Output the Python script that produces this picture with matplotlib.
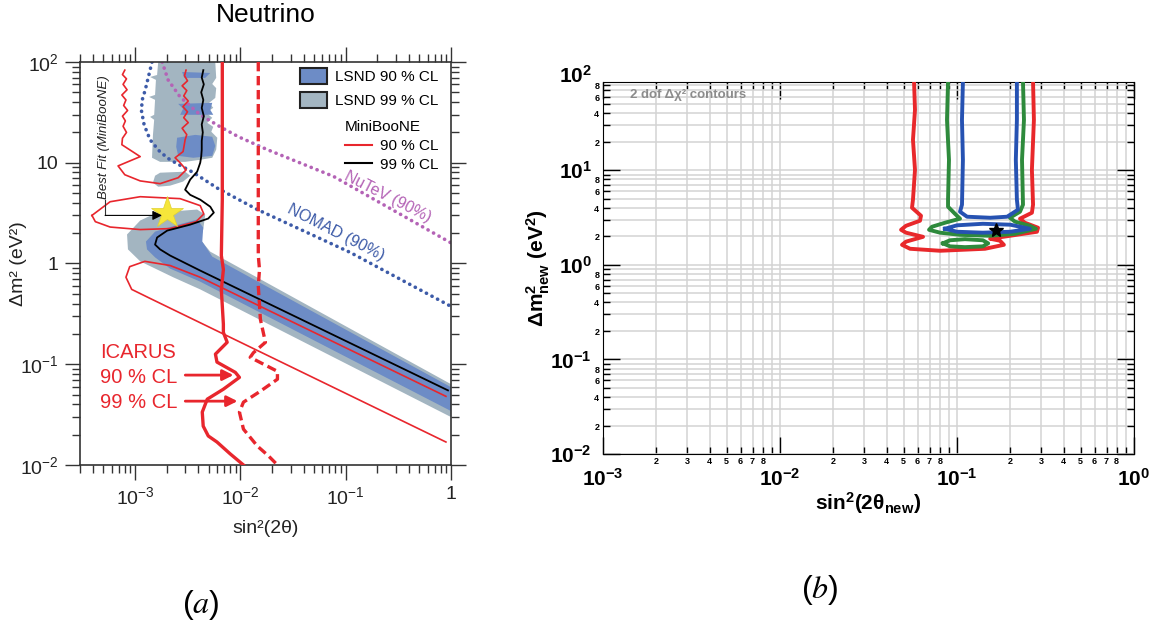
import numpy as np
import matplotlib
matplotlib.use("Agg")
import matplotlib.pyplot as plt
from matplotlib.patches import Patch
from matplotlib.lines import Line2D
from matplotlib.ticker import (FixedLocator, FixedFormatter, LogLocator,
                               FuncFormatter, NullFormatter)

plt.rcParams['font.family'] = ['Liberation Sans', 'DejaVu Sans']
plt.rcParams['mathtext.fontset'] = 'custom'
plt.rcParams['mathtext.rm'] = 'Liberation Sans'
plt.rcParams['mathtext.it'] = 'Liberation Sans:italic'
plt.rcParams['mathtext.bf'] = 'Liberation Sans:bold'
plt.rcParams['mathtext.default'] = 'regular'

# ---------------- panel (a): neutrino exclusion plot ----------------
# LSND allowed regions (99 % CL, grey)
lsnd99_top_x = [1.66e-3, 1.62e-3, 1.39e-3, 1.58e-3, 1.55e-3, 1.36e-3, 1.55e-3, 1.52e-3,
                1.39e-3, 1.52e-3, 1.48e-3, 1.45e-3, 1.73e-3, 2.99e-3, 4.16e-3, 5.41e-3,
                5.9e-3, 6.04e-3, 5.3e-3, 5.53e-3, 4.85e-3, 5.41e-3, 4.75e-3, 5.53e-3,
                5.06e-3, 5.78e-3, 5.9e-3, 5.41e-3, 5.9e-3, 5.78e-3]
lsnd99_top_y = [100, 74.3, 71, 66.4, 47.1, 45, 42.1, 29.9, 28.5, 26.7, 18.9, 11.2, 10.2,
                10.2, 10.7, 11.2, 13.5, 17.7, 20.3, 22.7, 24.9, 27.9, 31.3, 35.1, 39.3,
                44, 55, 60.5, 69.5, 100]
lsnd99_island_x = [1.55e-3, 1.73e-3, 2.99e-3, 3.34e-3, 2.86e-3, 2.15e-3, 1.66e-3, 1.48e-3]
lsnd99_island_y = [7.43, 7.96, 8.15, 7.43, 6.5, 5.92, 5.78, 6.34]
lsnd99_main_x = [8.4e-4, 1.12e-3, 1.62e-3, 3.89e-3, 4.64e-3, 4.44e-3, 4.16e-3, 5.18e-3,
                 1.0, 1.0, 4.16e-3, 2.30e-3, 1.12e-3, 8.57e-4]
lsnd99_main_y = [1.94, 2.67, 3.2, 3.43, 3.05, 2.17, 1.73, 1.31, 0.0634, 0.0299, 0.553,
                 0.73, 1.05, 1.38]

# LSND allowed regions (90 % CL, blue)
lsnd90_main_x = [1.27e-3, 1.55e-3, 2.40e-3, 3.89e-3, 4.44e-3, 4.35e-3, 5.41e-3, 1.0, 1.0,
                 4.16e-3, 2.15e-3, 1.55e-3, 1.30e-3]
lsnd90_main_y = [1.65, 2.07, 2.38, 2.73, 2.27, 1.65, 1.17, 0.0592, 0.0343, 0.66, 0.89,
                 1.15, 1.38]
lsnd90_blob_a_x = [2.51e-3, 3.73e-3, 5.41e-3, 5.78e-3, 5.41e-3, 3.57e-3, 2.57e-3, 2.46e-3]
lsnd90_blob_a_y = [17.7, 18.9, 18.1, 14.7, 11.7, 11.2, 11.7, 14.4]
lsnd90_blob_b_x = [2.57e-3, 5.41e-3, 5.18e-3, 5.53e-3, 2.68e-3, 2.86e-3]
lsnd90_blob_b_y = [38.4, 39.3, 33.5, 29.9, 29.9, 34.3]
lsnd90_blob_c_x = [2.8e-3, 5.18e-3, 4.64e-3, 2.93e-3]
lsnd90_blob_c_y = [79.6, 77.8, 69.5, 69.5]

# MiniBooNE 99 % CL (black)
mb99_x = [4.45e-3, 4.3e-3, 4.5e-3, 4.25e-3, 4.45e-3, 4.3e-3, 4.5e-3, 4.3e-3, 4.4e-3,
          4.3e-3, 4.3e-3, 4.25e-3, 4.16e-3, 3.89e-3, 3.34e-3, 2.99e-3, 3.34e-3, 4.16e-3,
          5.18e-3, 5.6e-3, 4.95e-3, 3.34e-3, 2.02e-3, 1.62e-3, 1.55e-3, 1.73e-3, 2.15e-3,
          4.16e-3, 0.936]
mb99_y = [83, 70, 60, 50, 42, 35, 29, 24, 20, 16.5, 13.5, 11.5, 10, 8.15, 6.8, 5.4, 4.8,
          4.3, 3.66, 3.2, 2.79, 2.43, 2.12, 1.81, 1.54, 1.38, 1.2, 0.85, 0.055]

# MiniBooNE 90 % CL (red), three pieces
mb90_u_x = [8.0e-4, 7.6e-4, 8.3e-4, 7.7e-4, 8.4e-4, 7.5e-4, 8.2e-4, 7.8e-4, 8.5e-4, 7.6e-4,
            8.1e-4, 7.7e-4, 8.3e-4, 7.6e-4, 7.5e-4, 1.12e-3, 6.9e-4, 8.0e-4, 1.12e-3,
            1.73e-3, 2.57e-3, 3.06e-3, 2.68e-3, 2.4e-3, 2.86e-3, 2.99e-3, 3.1e-3, 2.8e-3,
            3.2e-3, 2.9e-3, 3.15e-3, 2.85e-3, 3.2e-3, 2.9e-3, 3.1e-3, 2.8e-3, 3.15e-3,
            2.95e-3, 3.05e-3]
mb90_u_y = [83, 75, 68, 60, 53, 47, 42, 37, 33, 29, 26, 23, 20, 17.5, 15.1, 11.5, 9.3,
            7.6, 6.6, 6.2, 7.1, 8.5, 10.0, 11.2, 12.9, 16.9, 19, 22, 25, 28, 32, 36, 41,
            46, 52, 58, 65, 73, 83]
mb90_ell_x = [3.9e-4, 5.8e-4, 1.12e-3, 2.68e-3, 4.16e-3, 4.5e-3, 3.8e-3, 2.15e-3, 1.12e-3,
              5.8e-4, 4.2e-4, 3.9e-4]
mb90_ell_y = [3.0, 4.1, 4.6, 4.4, 3.75, 3.1, 2.6, 2.22, 2.17, 2.3, 2.6, 3.0]
mb90_low_x = [0.895, 4.16e-3, 2.15e-3, 1.24e-3, 8.9e-4, 8.2e-4, 9.3e-4, 1.39e-3, 0.895]
mb90_low_y = [0.048, 0.73, 0.955, 1.05, 0.93, 0.73, 0.553, 0.45, 0.0169]

# ICARUS limits
icarus90_x = [6.74e-3, 6.74e-3, 6.6e-3, 6.9e-3, 6.6e-3, 6.9e-3, 6.9e-3, 7.5e-3, 5.8e-3,
              6.0e-3, 8.96e-3, 9.8e-3, 6.9e-3, 4.85e-3, 4.35e-3, 4.44e-3, 4.96e-3, 6.0e-3,
              8.0e-3, 1.07e-2]
icarus90_y = [100, 4.3, 1.2, 0.87, 0.55, 0.25, 0.207, 0.165, 0.126, 0.105, 0.083, 0.074,
              0.0565, 0.045, 0.0335, 0.0243, 0.0194, 0.0169, 0.0129, 0.01]
icarus99_x = [1.48e-2, 1.48e-2, 1.52e-2, 1.48e-2, 1.55e-2, 1.73e-2, 1.33e-2, 1.24e-2,
              2.25e-2, 2.25e-2, 1.55e-2, 1.07e-2, 9.8e-3, 1.07e-2, 1.45e-2, 1.85e-2, 2.25e-2]
icarus99_y = [100, 1.2, 0.87, 0.6, 0.279, 0.165, 0.13, 0.117, 0.085, 0.071, 0.054, 0.042,
              0.0335, 0.0227, 0.0154, 0.0123, 0.01]

# NOMAD and NuTeV 90 % limits
nomad_x = [1.45e-3, 1.25e-3, 1.17e-3, 1.15e-3, 1.22e-3, 1.39e-3, 1.73e-3, 2.15e-3, 3.57e-3,
           6.04e-3, 1.45e-2, 0.11, 1.0]
nomad_y = [100, 52.8, 42, 33, 23.8, 16.9, 12.8, 10.7, 8.0, 5.6, 3.43, 1.29, 0.375]
nutev_x = [1.81e-3, 2.06e-3, 2.68e-3, 4.16e-3, 6.45e-3, 9.6e-3, 1.8e-2, 7.7e-2, 1.0]
nutev_y = [100, 66.4, 45, 29.9, 22.7, 18.1, 13.5, 7.3, 1.6]

best_fit_a = (2.02e-3, 3.2)

# ---------------- panel (b): 2 dof contours ----------------
red_x = [0.0572, 0.0579, 0.0564, 0.0579, 0.0564, 0.0557, 0.0626, 0.0618, 0.0515, 0.0483,
         0.0515, 0.0643, 0.0515, 0.0489, 0.0543, 0.0802, 0.144, 0.184, 0.175, 0.154,
         0.199, 0.283, 0.287, 0.242, 0.227, 0.265, 0.269, 0.265, 0.272, 0.269]
red_y = [86, 43.6, 21.0, 10.1, 4.89, 4.02, 3.31, 2.93, 2.59, 2.35, 2.19, 1.98, 1.76, 1.63,
         1.48, 1.41, 1.48, 1.63, 1.80, 1.89, 2.03, 2.24, 2.47, 2.79, 3.08, 3.56, 4.33,
         10.1, 34.1, 86]
green_x = [0.089, 0.0878, 0.0901, 0.089, 0.089, 0.0974, 0.104, 0.0855, 0.0722, 0.0695,
           0.0802, 0.104, 0.154, 0.213, 0.279, 0.258, 0.213, 0.199, 0.227, 0.236, 0.233,
           0.239, 0.236]
green_y = [86, 34.1, 12.9, 4.89, 4.12, 3.47, 3.08, 2.79, 2.53, 2.35, 2.19, 2.08, 2.03,
           2.13, 2.41, 2.59, 2.86, 3.15, 3.65, 4.33, 12.9, 34.1, 86]
green_ring_x = [0.0833, 0.0913, 0.111, 0.140, 0.150, 0.140, 0.111, 0.0913, 0.0833]
green_ring_y = [1.69, 1.82, 1.87, 1.82, 1.69, 1.57, 1.54, 1.57, 1.69]
blue_x = [0.108, 0.1067, 0.108, 0.1067, 0.104, 0.114, 0.154, 0.192, 0.221, 0.218, 0.215,
          0.218, 0.218]
blue_y = [86, 34.1, 12.9, 4.33, 3.65, 3.23, 3.15, 3.23, 3.83, 4.89, 12.9, 34.1, 86]
blue_ring_x = [0.0855, 0.100, 0.140, 0.200, 0.258, 0.200, 0.140, 0.100, 0.0855]
blue_ring_y = [2.41, 2.62, 2.72, 2.66, 2.41, 2.24, 2.19, 2.24, 2.41]
best_fit_b = (0.166, 2.35)

# colours
c_grey = '#a3b5c1'
c_blue = '#6d8cc6'
c_red = '#e8262d'
c_nomad = '#3d5ba8'
c_nutev = '#b463b6'

fig = plt.figure(figsize=(11.57, 6.28), dpi=100)

# ================= panel (a) =================
axa = fig.add_axes([0.0691, 0.2596, 0.3207, 0.6417])
axa.set_xscale('log')
axa.set_yscale('log')

axa.fill(lsnd99_top_x, lsnd99_top_y, color=c_grey, lw=0, zorder=1)
axa.fill(lsnd99_island_x, lsnd99_island_y, color=c_grey, lw=0, zorder=1)
axa.fill(lsnd99_main_x, lsnd99_main_y, color=c_grey, lw=0, zorder=1)
axa.fill(lsnd90_main_x, lsnd90_main_y, color=c_blue, lw=0, zorder=1.5)
axa.fill(lsnd90_blob_a_x, lsnd90_blob_a_y, color=c_blue, lw=0, zorder=1.5)
axa.fill(lsnd90_blob_b_x, lsnd90_blob_b_y, color=c_blue, lw=0, zorder=1.5)
axa.fill(lsnd90_blob_c_x, lsnd90_blob_c_y, color=c_blue, lw=0, zorder=1.5)

axa.plot(nomad_x, nomad_y, color=c_nomad, lw=2.6, ls=(0, (0.05, 1.7)),
         dash_capstyle='round', zorder=2)
axa.plot(nutev_x, nutev_y, color=c_nutev, lw=2.6, ls=(0, (0.05, 1.7)),
         dash_capstyle='round', zorder=2)

axa.plot(mb90_u_x, mb90_u_y, color=c_red, lw=1.2, zorder=3)
axa.plot(mb90_ell_x, mb90_ell_y, color=c_red, lw=1.2, zorder=3)
axa.plot(mb90_low_x, mb90_low_y, color=c_red, lw=1.2, zorder=3)
axa.plot(mb99_x, mb99_y, color='black', lw=1.3, zorder=3)

axa.plot(icarus90_x, icarus90_y, color=c_red, lw=2.4, zorder=4)
axa.plot(icarus99_x, icarus99_y, color=c_red, lw=2.4, ls=(0, (2.8, 1.4)), zorder=4)

axa.plot(*best_fit_a, marker='*', ms=24, color='#f6e63a', mec='#e0d030', mew=0.5, zorder=5)
axa.plot([5.2e-4, 5.2e-4], [4.3, 3.0], color='#333333', lw=0.8, zorder=6)
axa.annotate('', xy=(1.8e-3, 3.0), xytext=(5.2e-4, 3.0),
             arrowprops=dict(arrowstyle='-|>', color='black', lw=0.8, mutation_scale=14,
                             shrinkA=0, shrinkB=0), zorder=6)
axa.text(0.065, 0.814, 'Best Fit (MiniBooNE)', transform=axa.transAxes, rotation=90,
         ha='center', va='center', fontsize=9.5, style='italic', color='#222222')

axa.text(0.25, 4.6, 'NuTeV (90%)', color=c_nutev, fontsize=11.5, rotation=-27,
         ha='center', va='center', rotation_mode='anchor')
axa.text(0.080, 2.05, 'NOMAD (90%)', color=c_nomad, fontsize=11.5, rotation=-27,
         ha='center', va='center', rotation_mode='anchor')

axa.text(0.054, 0.280, 'ICARUS', transform=axa.transAxes, color=c_red, fontsize=14.5,
         ha='left', va='center')
axa.text(0.054, 0.218, '90 % CL', transform=axa.transAxes, color=c_red, fontsize=14.5,
         ha='left', va='center')
axa.text(0.054, 0.156, '99 % CL', transform=axa.transAxes, color=c_red, fontsize=14.5,
         ha='left', va='center')
for y_arr, x_tip in [(0.078, 8.6e-3), (0.043, 9.4e-3)]:
    axa.annotate('', xy=(x_tip, y_arr), xytext=(3.0e-3, y_arr),
                 arrowprops=dict(arrowstyle='-|>', color=c_red, lw=2.0, mutation_scale=16,
                                 shrinkA=0, shrinkB=0), zorder=6)

axa.set_xlim(3e-4, 1.0)
axa.set_ylim(1e-2, 1e2)
axa.xaxis.set_major_locator(FixedLocator([1e-3, 1e-2, 1e-1, 1]))
axa.xaxis.set_major_formatter(FixedFormatter(['$10^{-3}$', '$10^{-2}$', '$10^{-1}$', '1']))
axa.yaxis.set_major_locator(FixedLocator([1e-2, 1e-1, 1, 10, 100]))
axa.yaxis.set_major_formatter(FixedFormatter(['$10^{-2}$', '$10^{-1}$', '1', '10', '$10^{2}$']))
for axis in (axa.xaxis, axa.yaxis):
    axis.set_minor_locator(LogLocator(base=10, subs=np.arange(2, 10), numticks=30))
    axis.set_minor_formatter(NullFormatter())
axa.tick_params(which='both', direction='out', top=True, right=True, colors='#333333',
                labelcolor='#222222', labelsize=14, width=1.0)
axa.tick_params(which='major', length=10.5, pad=5)
axa.tick_params(which='minor', length=5.5)
for sp in axa.spines.values():
    sp.set_linewidth(1.2)
    sp.set_color('#333333')

axa.set_xlabel('sin²(2θ)', fontsize=14, labelpad=8, color='#222222')
axa.set_ylabel('Δm² (eV²)', fontsize=14, color='#222222')
axa.yaxis.set_label_coords(-0.143, 0.5)
fig.text(265.5 / 1157, 0.965, 'Neutrino', ha='center', va='baseline', fontsize=19)

leg1 = axa.legend(handles=[Patch(facecolor=c_blue, edgecolor='#222222', lw=1.5),
                           Patch(facecolor=c_grey, edgecolor='#222222', lw=1.5)],
                  labels=['LSND 90 % CL', 'LSND 99 % CL'], loc='upper left',
                  bbox_to_anchor=(0.593, 0.985), frameon=False, fontsize=11,
                  borderpad=0, borderaxespad=0, handlelength=1.77, handleheight=1.24,
                  handletextpad=0.55, labelspacing=0.5)
axa.add_artist(leg1)
axa.legend(handles=[Line2D([], [], color=c_red, lw=1.5), Line2D([], [], color='black', lw=1.5)],
           labels=['90 % CL', '99 % CL'], title='MiniBooNE', title_fontsize=11,
           alignment='left', loc='upper left', bbox_to_anchor=(0.714, 0.855),
           frameon=False, fontsize=11, borderpad=0, borderaxespad=0,
           handlelength=1.77, handletextpad=0.55, labelspacing=0.3)

# ================= panel (b) =================
axb = fig.add_axes([0.5212, 0.2771, 0.4589, 0.5924])
axb.set_xscale('log')
axb.set_yscale('log')
axb.set_xlim(1e-3, 1.0)
axb.set_ylim(1e-2, 86)
axb.set_axisbelow(True)
axb.grid(True, which='both', color='#d3d3d3', lw=1.1)

lw_c = 2.8
axb.plot(red_x, red_y, color='#e8282b', lw=lw_c, zorder=3)
axb.plot(green_x, green_y, color='#2e8a3c', lw=lw_c, zorder=3)
axb.plot(green_ring_x, green_ring_y, color='#2e8a3c', lw=lw_c, zorder=3)
axb.plot(blue_x, blue_y, color='#2652b2', lw=lw_c, zorder=3)
axb.plot(blue_ring_x, blue_ring_y, color='#2652b2', lw=lw_c, zorder=3)
axb.plot(*best_fit_b, marker='*', ms=10, color='black', zorder=5)


def minor_label(keep):
    def fmt(v, pos):
        d = int(round(v / 10 ** np.floor(np.log10(v) + 1e-9)))
        return r'$\mathbf{%d}$' % d if d in keep else ''
    return FuncFormatter(fmt)


axb.xaxis.set_major_locator(FixedLocator([1e-3, 1e-2, 1e-1, 1]))
axb.xaxis.set_major_formatter(FixedFormatter([r'$\mathbf{10^{-3}}$', r'$\mathbf{10^{-2}}$',
                                              r'$\mathbf{10^{-1}}$', r'$\mathbf{10^{0}}$']))
axb.yaxis.set_major_locator(FixedLocator([1e-2, 1e-1, 1, 10]))
axb.yaxis.set_major_formatter(FixedFormatter([r'$\mathbf{10^{-2}}$', r'$\mathbf{10^{-1}}$',
                                              r'$\mathbf{10^{0}}$', r'$\mathbf{10^{1}}$']))
axb.xaxis.set_minor_locator(LogLocator(base=10, subs=np.arange(2, 10), numticks=30))
axb.yaxis.set_minor_locator(LogLocator(base=10, subs=np.arange(2, 10), numticks=30))
axb.xaxis.set_minor_formatter(minor_label({2, 3, 4, 5, 6, 7, 8}))
axb.yaxis.set_minor_formatter(minor_label({2, 4, 6, 8}))
axb.tick_params(which='both', direction='in', top=True, right=True, width=1.0)
axb.tick_params(which='major', length=12, labelsize=15)
axb.tick_params(which='minor', length=5, labelsize=6.5)
axb.tick_params(axis='x', which='major', pad=10)
axb.tick_params(axis='x', which='minor', pad=1.5)
axb.tick_params(axis='y', which='major', pad=8)
axb.tick_params(axis='y', which='minor', pad=2)
axb.text(-8 * 100 / 72 / 531, 100, r'$\mathbf{10^{2}}$', transform=axb.get_yaxis_transform(),
         ha='right', va='center', fontsize=15)

axb.text(0.051, 0.965, '2 dof Δχ² contours', transform=axb.transAxes, color='#8c8c8c',
         fontsize=9.5, fontweight='bold', ha='left', va='center')
axb.set_xlabel(r'$\mathbf{sin^{2}(2\theta_{new})}$', fontsize=15, labelpad=0)
axb.set_ylabel(r'$\mathbf{\Delta m^{2}_{new}\ (eV^{2})}$', fontsize=15)
axb.yaxis.set_label_coords(-0.096, 0.5)

# captions
fig.text(201 / 1157, 1 - 605 / 628, r'$(\mathit{a})$', math_fontfamily='stix', fontsize=23,
         ha='center', va='center')
fig.text(820 / 1157, 1 - 590 / 628, r'$(\mathit{b})$', math_fontfamily='stix', fontsize=23,
         ha='center', va='center')

fig.savefig('out.png', dpi=100)
